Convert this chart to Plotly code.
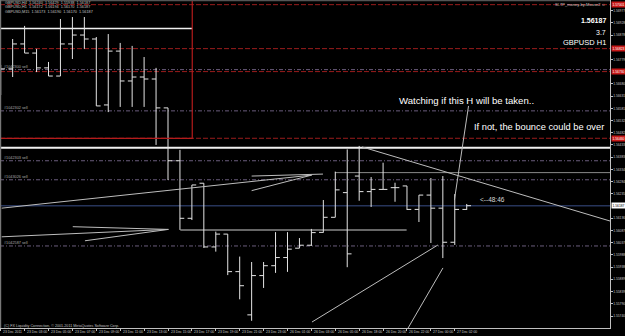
import plotly.graph_objects as go

# ---------------- data ----------------
times = ["23 Dec 01:00", "23 Dec 02:00", "23 Dec 03:00", "23 Dec 04:00", "23 Dec 05:00",
         "23 Dec 06:00", "23 Dec 07:00", "23 Dec 08:00", "23 Dec 09:00", "23 Dec 10:00",
         "23 Dec 11:00", "23 Dec 12:00", "23 Dec 13:00", "23 Dec 14:00", "23 Dec 15:00",
         "23 Dec 16:00", "23 Dec 17:00", "23 Dec 18:00", "23 Dec 19:00", "23 Dec 20:00",
         "23 Dec 21:00", "23 Dec 22:00", "23 Dec 23:00", "26 Dec 00:00", "26 Dec 01:00",
         "26 Dec 02:00", "26 Dec 03:00", "26 Dec 04:00", "26 Dec 05:00", "26 Dec 17:00",
         "26 Dec 18:00", "26 Dec 19:00", "26 Dec 20:00", "26 Dec 21:00", "26 Dec 22:00",
         "26 Dec 23:00", "27 Dec 00:00", "27 Dec 01:00", "27 Dec 02:00", "27 Dec 03:00"]

opens = [1.56696, 1.56741, 1.56842, 1.56805, 1.56745, 1.56712, 1.56842, 1.56878, 1.56862, 1.56595,
         1.56813, 1.56692, 1.56708, 1.56700, 1.56583, 1.56369, 1.56136, 1.56278, 1.56020, 1.56072,
         1.55920, 1.55745, 1.55904, 1.55944, 1.55977, 1.56015, 1.56027, 1.56079, 1.56140, 1.56240,
         1.56307, 1.56244, 1.56253, 1.56260, 1.56267, 1.56172, 1.56230, 1.56177, 1.56039, 1.56172]
highs = [1.56757, 1.56862, 1.56915, 1.56822, 1.56769, 1.56943, 1.56951, 1.56951, 1.56870, 1.56882,
         1.56846, 1.56834, 1.56789, 1.56745, 1.56583, 1.56413, 1.56271, 1.56278, 1.56082, 1.56072,
         1.55981, 1.55959, 1.55959, 1.56080, 1.56080, 1.56056, 1.56093, 1.56210, 1.56325, 1.56415,
         1.56429, 1.56303, 1.56361, 1.56280, 1.56267, 1.56230, 1.56299, 1.56307, 1.56234, 1.56194]
lows = [1.56635, 1.56708, 1.56805, 1.56728, 1.56712, 1.56712, 1.56781, 1.56822, 1.56591, 1.56566,
        1.56587, 1.56587, 1.56587, 1.56433, 1.56291, 1.56089, 1.56129, 1.56016, 1.56001, 1.55906,
        1.55808, 1.55721, 1.55854, 1.55915, 1.55919, 1.56015, 1.56024, 1.56078, 1.56140, 1.55938,
        1.56207, 1.56182, 1.56253, 1.56203, 1.56170, 1.56121, 1.56036, 1.55975, 1.56028, 1.56170]
closes = [1.56741, 1.56842, 1.56805, 1.56745, 1.56712, 1.56842, 1.56878, 1.56862, 1.56591, 1.56813,
          1.56692, 1.56708, 1.56700, 1.56583, 1.56369, 1.56136, 1.56271, 1.56020, 1.56072, 1.55920,
          1.55863, 1.55904, 1.55944, 1.55977, 1.56011, 1.56027, 1.56078, 1.56140, 1.56251, 1.55992,
          1.56244, 1.56253, 1.56253, 1.56260, 1.56172, 1.56230, 1.56177, 1.56039, 1.56172, 1.56187]

x_tick_labels = ["23 Dec 2011"] + times[2::2]
price_ticks = [1.55740, 1.55790, 1.55839, 1.55889, 1.55938, 1.55988, 1.56037, 1.56087, 1.56136,
               1.56235, 1.56284, 1.56334, 1.56383, 1.56433, 1.56482, 1.56532, 1.56581, 1.56631,
               1.56680, 1.56779, 1.56878, 1.56928, 1.56977]

# horizontal levels (price)
red_levels = [1.57001, 1.56823, 1.56730, 1.56460]
order_levels = [1.56738, 1.56571, 1.56369, 1.56292, 1.56024]
order_names = ["#1042300 sell", "#1042302 sell", "#1042303 sell", "#1043026 sell", "#1042587 sell"]
bid = 1.56187
resistance = 1.56422
upper_white = 1.56905
box_bottom = 1.56460
gray_hi = 1.56321
gray_lo = 1.56089

# trend lines (bar index, price)
trend_lines = [
    ((0.08, 1.56177), (26.03, 1.56311)),
    ((21.0, 1.56307), (26.97, 1.56315)),
    ((21.0, 1.56248), (26.03, 1.56311)),
    ((0.08, 1.56061), (14.03, 1.56091)),
    ((6.03, 1.56102), (14.03, 1.56091)),
    ((7.05, 1.56045), (14.03, 1.56091)),
    ((30.24, 1.56425), (50.99, 1.56125)),
    ((26.05, 1.55716), (36.59, 1.56028)),
    ((34.0, 1.55684), (37.01, 1.55935)),
    ((39.15, 1.56591), (37.97, 1.56210)),
]

# ---------------- figure ----------------
W, H = 625, 336
XR = [-0.059, 50.99]
YR = [1.556918, 1.570199]

fig = go.Figure()
fig.add_trace(go.Ohlc(
    x=list(range(len(times))), open=opens, high=highs, low=lows, close=closes,
    increasing=dict(line=dict(color="#e4e4e4", width=1)),
    decreasing=dict(line=dict(color="#e4e4e4", width=1)),
    tickwidth=0.36, hoverinfo="skip", showlegend=False))

shapes = []


def hline(y, x0, x1, color, width=1, dash="solid"):
    shapes.append(dict(type="line", xref="x", yref="y", x0=x0, x1=x1, y0=y, y1=y,
                       line=dict(color=color, width=width, dash=dash), layer="below"))


for lv in order_levels:
    hline(lv, XR[0], XR[1], "#6a5c7c", 1, "4px,2px,1px,2px")
for lv in red_levels:
    hline(lv, XR[0], XR[1], "#9a1c1c", 1, "5px,2px")
hline(bid, XR[0], XR[1], "#26345a", 1.5)
hline(resistance, XR[0], XR[1], "#f0f0f0", 2)
hline(upper_white, XR[0], 16.03, "#f0f0f0", 1.5)
hline(gray_hi, 27.97, XR[1], "#8a8a8a", 1)
hline(gray_lo, 15.03, 33.97, "#8a8a8a", 1.5)
shapes.append(dict(type="rect", xref="x", yref="y", x0=-1, x1=16.03, y0=box_bottom, y1=1.5712,
                   line=dict(color="#b41c1c", width=1.2)))
for (a, b) in trend_lines:
    shapes.append(dict(type="line", xref="x", yref="y", x0=a[0], y0=a[1], x1=b[0], y1=b[1],
                       line=dict(color="#bdbdbd", width=1)))
# chart frame (top / left)
shapes.append(dict(type="line", xref="paper", yref="paper", x0=0, x1=610 / W, y0=1 - 0.5 / H,
                   y1=1 - 0.5 / H, line=dict(color="#555555", width=1.5)))
shapes.append(dict(type="line", xref="paper", yref="paper", x0=0.6 / W, x1=0.6 / W, y0=8 / H,
                   y1=1, line=dict(color="#777777", width=1.2)))

ann = []
F = "Liberation Sans, Arial"
ann.append(dict(x=33.2, y=1.56615, xref="x", yref="y", text="Watching if this H will be taken..",
                showarrow=False, xanchor="left", yanchor="middle", font=dict(family=F, size=9.6, color="#ffffff")))
ann.append(dict(x=39.4, y=1.56504, xref="x", yref="y", text="If not, the bounce could be over",
                showarrow=False, xanchor="left", yanchor="middle", font=dict(family=F, size=9.3, color="#ffffff")))
ann.append(dict(x=39.94, y=1.56214, xref="x", yref="y", text="<--48:46",
                showarrow=False, xanchor="left", yanchor="middle", font=dict(family=F, size=6.5, color="#d8d8d8")))
for lv, nm in zip(order_levels, order_names):
    ann.append(dict(x=0.1, y=lv, xref="x", yref="y", text=nm, showarrow=False, xanchor="left",
                    yanchor="bottom", yshift=-1, font=dict(family=F, size=3.8, color="#a8a8a8")))

right_x = 608 / W
ann.append(dict(x=right_x, y=1 - 20 / H, xref="paper", yref="paper", text="<b>1.56187</b>", showarrow=False,
                xanchor="right", yanchor="middle", font=dict(family=F, size=7, color="#ffffff")))
ann.append(dict(x=right_x, y=1 - 32.5 / H, xref="paper", yref="paper", text="3.7", showarrow=False,
                xanchor="right", yanchor="middle", font=dict(family=F, size=7, color="#ffffff")))
ann.append(dict(x=right_x, y=1 - 42.5 / H, xref="paper", yref="paper", text="GBPUSD H1", showarrow=False,
                xanchor="right", yanchor="middle", font=dict(family=F, size=7.5, color="#ffffff")))
ann.append(dict(x=right_x, y=1 - 4.5 / H, xref="paper", yref="paper", text="Sl-TP_money-by-Mouse2 \u263a",
                showarrow=False, xanchor="right", yanchor="middle", font=dict(family=F, size=4, color="#c8c8c8")))

info_lines = ["GBPUSD,H4  1.56240  1.56429  1.55938  1.56187",
              "GBPUSD,H1  1.56172  1.56194  1.56170  1.56187",
              "GBPUSD,M15  1.56173  1.56190  1.56170  1.56187"]
for i, t in enumerate(info_lines):
    ann.append(dict(x=2.5 / W, y=1 - (3 + 4.3 * i) / H, xref="paper", yref="paper", text=t, showarrow=False,
                    xanchor="left", yanchor="middle", font=dict(family=F, size=3.8, color="#c0c0c0")))
ann.append(dict(x=2 / W, y=1 - 325.5 / H, xref="paper", yref="paper",
                text="(C) FX Liquidity Connection, \u00a9 2001-2011 MetaQuotes Software Corp.", showarrow=False,
                xanchor="left", yanchor="middle", font=dict(family=F, size=3.7, color="#c0c0c0")))

# time labels (left-aligned at their tick, MT4 style)
tick_idx = list(range(0, len(times), 2))
for xi, lab in zip(tick_idx, x_tick_labels):
    ann.append(dict(x=xi, y=1 - 331.8 / H, xref="x", yref="paper", text=lab, showarrow=False,
                    xanchor="left", yanchor="middle", xshift=0.5,
                    font=dict(family=F, size=3.4, color="#c8c8c8")))

# highlighted price boxes on the axis
for lv in red_levels:
    ann.append(dict(x=611 / W, y=lv, xref="paper", yref="y", text="%.5f" % lv, showarrow=False,
                    xanchor="left", yanchor="middle", bgcolor="#c81818", borderpad=0.5,
                    font=dict(family=F, size=3.3, color="#ffffff")))
ann.append(dict(x=611 / W, y=bid, xref="paper", yref="y", text="%.5f" % bid, showarrow=False,
                xanchor="left", yanchor="middle", bgcolor="#ffffff", borderpad=0.5,
                font=dict(family=F, size=3.3, color="#000000")))

fig.update_layout(
    width=W, height=H, margin=dict(l=0, r=0, t=0, b=0),
    paper_bgcolor="#000000", plot_bgcolor="#000000",
    shapes=shapes, annotations=ann, showlegend=False,
    xaxis=dict(domain=[0, 610 / W], range=XR, rangeslider=dict(visible=False), showgrid=False,
               zeroline=False, tickmode="array", tickvals=tick_idx, showticklabels=False,
               ticks="outside", ticklen=2, tickcolor="#c0c0c0",
               showline=True, linecolor="#c0c0c0", linewidth=1, fixedrange=True, automargin=False),
    yaxis=dict(domain=[8 / H, 1], range=YR, side="right", showgrid=False, zeroline=False,
               tickmode="array", tickvals=price_ticks, ticktext=["%.5f" % v for v in price_ticks],
               ticks="outside", ticklen=1.5, tickcolor="#c0c0c0",
               tickfont=dict(family=F, size=3.3, color="#c8c8c8"),
               showline=True, linecolor="#c0c0c0", linewidth=1, fixedrange=True, automargin=False),
)

fig.write_html("out.html")
